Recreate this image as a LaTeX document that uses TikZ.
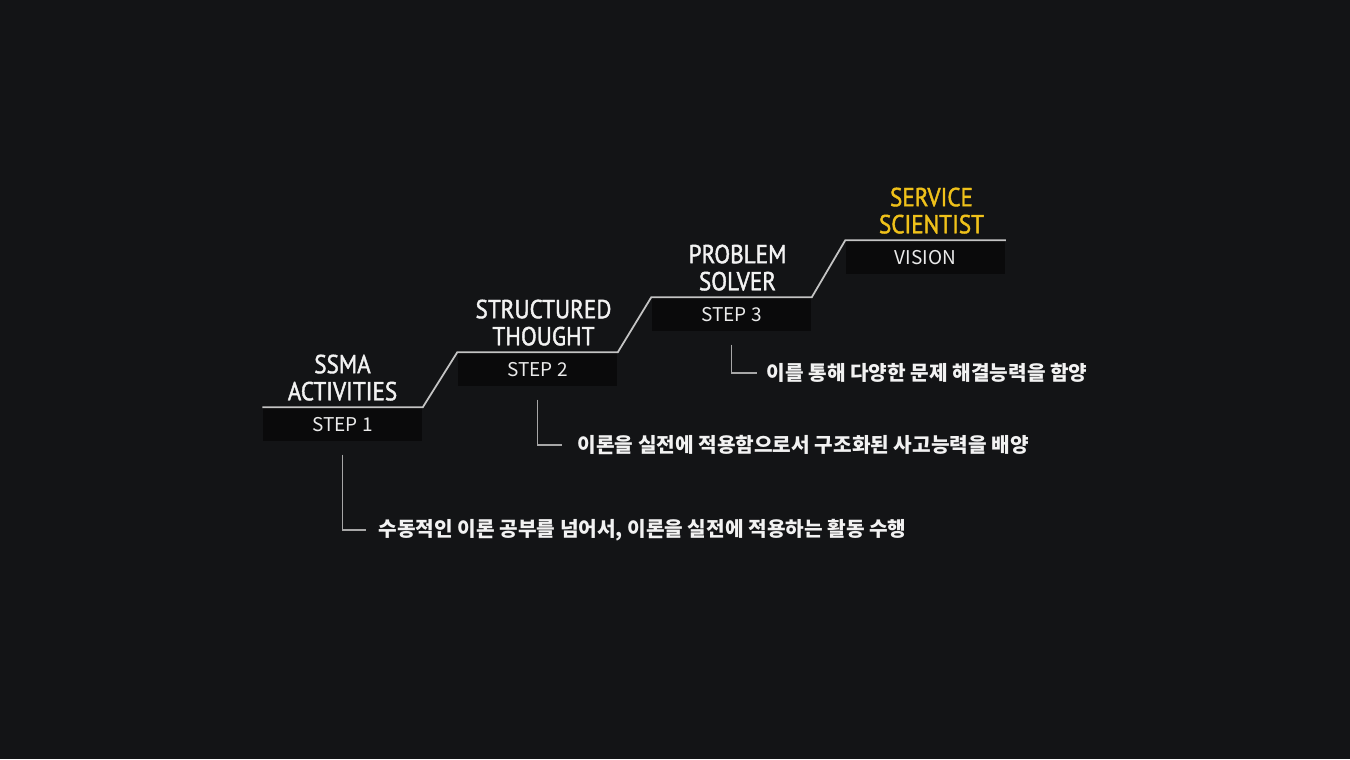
\documentclass[tikz,border=0pt]{standalone}
\usepackage{fontspec}
\setmainfont{Noto Sans CJK KR}
\newfontfamily\titlefont[FakeBold=1.6, FakeStretch=0.89]{PT Sans}
\usetikzlibrary{positioning}
\definecolor{bgdark}{HTML}{131416}
\definecolor{boxdark}{HTML}{0A0A0B}
\definecolor{linegray}{HTML}{C4C4C4}
\definecolor{visionyellow}{HTML}{EFC11A}

\begin{document}
\begin{tikzpicture}[
    x=0.01cm, y=-0.01cm,
    stepbox/.style={fill=boxdark, minimum width=1.59cm, minimum height=0.33cm,
        inner sep=0pt, text=white!92!black, font=\fontsize{5.4}{6}\selectfont},
    title/.style={align=center, text=white!95!black, inner sep=0pt,
        font=\titlefont\fontsize{7.4}{7.7}\selectfont},
    note/.style={anchor=west, inner sep=0pt, text=white!95!black,
        font=\fontsize{5.75}{7}\selectfont\bfseries},
    stair/.style={draw=linegray, line width=0.5pt},
    leader/.style={draw=linegray!85!black, line width=0.5pt}
]
\useasboundingbox[fill=bgdark] (0,0) rectangle (1350,759);

% Step boxes
\node[stepbox] (s1) at (342.5,424.5) {STEP 1};
\node[stepbox] (s2) at (537.5,369.5) {STEP 2};
\node[stepbox] (s3) at (731.5,314.5) {STEP 3};
\node[stepbox] (vis) at (925.5,257.5) {VISION};

% Titles above the boxes
\node[title, above=0.06cm of s1] (t1) {SSMA\\ACTIVITIES};
\node[title, above=0.06cm of s2, xshift=0.06cm] (t2) {STRUCTURED\\THOUGHT};
\node[title, above=0.06cm of s3, xshift=0.06cm] (t3) {PROBLEM\\SOLVER};
\node[title, above=0.06cm of vis, xshift=0.06cm, text=visionyellow] (t4) {SERVICE\\SCIENTIST};

% Staircase line
\draw[stair] (s1.north west) -- (s1.north east) -- (s2.north west) -- (s2.north east)
    -- (s3.north west) -- (s3.north east) -- (vis.north west) -- (vis.north east);

% Descriptions
\node[note] (d1) at (378,530) {수동적인 이론 공부를 넘어서, 이론을 실전에 적용하는 활동 수행};
\node[note] (d2) at (577,445) {이론을 실전에 적용함으로서 구조화된 사고능력을 배양};
\node[note] (d3) at (766,373) {이를 통해 다양한 문제 해결능력을 함양};

% Leaders from boxes to descriptions
\draw[leader] ([yshift=-0.13cm]s1.south) |- ([xshift=-0.12cm]d1.west);
\draw[leader] ([yshift=-0.13cm]s2.south) |- ([xshift=-0.15cm]d2.west);
\draw[leader] ([yshift=-0.13cm]s3.south) |- ([xshift=-0.09cm]d3.west);

\end{tikzpicture}
\end{document}
